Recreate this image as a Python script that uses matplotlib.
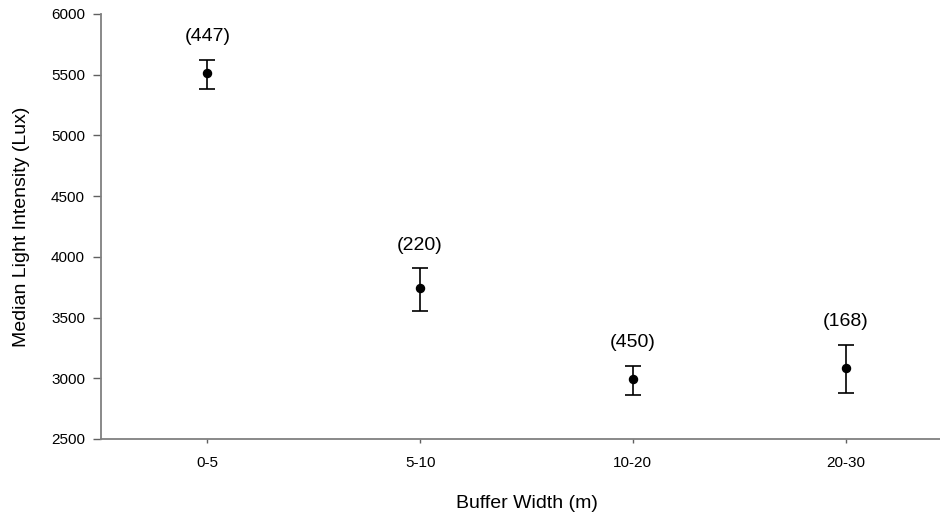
import matplotlib
matplotlib.use("Agg")
import matplotlib.pyplot as plt

plt.rcParams['font.family'] = ['Liberation Sans', 'DejaVu Sans']

# Median light intensity by riparian buffer width, with error bars and sample sizes
categories = ["0-5", "5-10", "10-20", "20-30"]
medians = [5510, 3740, 2992, 3082]
upper = [5625, 3905, 3105, 3275]
lower = [5380, 3552, 2865, 2875]
sample_sizes = [447, 220, 450, 168]

fig = plt.figure(figsize=(9.4, 5.14), dpi=100)
# the plotting area runs slightly past the right edge of the canvas
ax = fig.add_axes([101 / 940, (514 - 439) / 514, (952 - 101) / 940, (439 - 14) / 514])

x = list(range(len(categories)))
err_lo = [m - lo for m, lo in zip(medians, lower)]
err_hi = [hi - m for m, hi in zip(medians, upper)]
ax.errorbar(x, medians, yerr=[err_lo, err_hi], fmt='o', color='black',
            markersize=5.8, capsize=5.8, elinewidth=1.2, capthick=1.2)

for xi, hi, n in zip(x, upper, sample_sizes):
    ax.annotate(f"({n})", xy=(xi, hi), xytext=(0, 16.5), textcoords='offset points',
                ha='center', va='center', fontsize=14)

ax.set_xlim(-0.5, 3.5)
ax.set_ylim(2500, 6000)
ax.set_yticks(range(2500, 6001, 500))
ax.set_xticks(x)
ax.set_xticklabels(categories)

for side in ('top', 'right'):
    ax.spines[side].set_visible(False)
for side in ('left', 'bottom'):
    ax.spines[side].set_color('#808080')
    ax.spines[side].set_linewidth(1.3)

ax.tick_params(axis='y', direction='out', length=6, width=1, color='#606060',
               labelsize=11, pad=5.5)
ax.tick_params(axis='x', direction='out', length=3, width=1, color='#606060',
               labelsize=11, pad=9)

ax.set_xlabel("Buffer Width (m)", fontsize=14, labelpad=18)
ax.set_ylabel("Median Light Intensity (Lux)", fontsize=14, labelpad=15)

fig.savefig("out.png", dpi=100)
